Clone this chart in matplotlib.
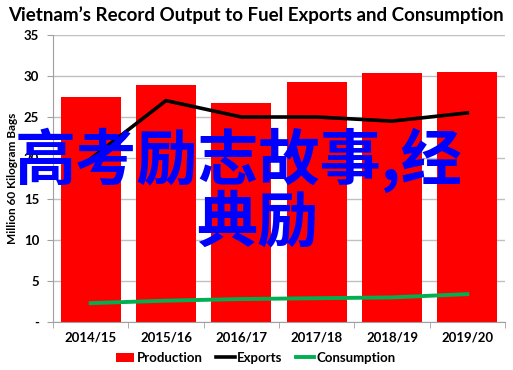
import matplotlib.pyplot as plt
import numpy as np

# values (million 60 kg bags)
seasons = ['2014/15', '2015/16', '2016/17', '2017/18', '2018/19', '2019/20']
production = [27.4, 28.9, 26.7, 29.3, 30.4, 30.5]
exports = [19.9, 27.0, 25.0, 25.0, 24.5, 25.5]
consumption = [2.3, 2.6, 2.8, 2.9, 3.0, 3.4]

yticks = [0, 5, 10, 15, 20, 25, 30, 35]
ytick_labels = ['-', '5', '10', '15', '20', '25', '30', '35']

W, H = 513, 370
fig = plt.figure(figsize=(W / 100, H / 100), dpi=100)
ax = fig.add_axes([53 / W, 1 - 322 / H, 452 / W, 287 / H])

x = np.arange(len(seasons))
bars = ax.bar(x, production, width=0.8, color='#ff0000', label='Production', zorder=2)
l_exp, = ax.plot(x, exports, color='black', lw=2.6, label='Exports', zorder=3)
l_con, = ax.plot(x, consumption, color='#00b050', lw=2.8, label='Consumption', zorder=3)

ax.set_xlim(-0.5, len(seasons) - 0.5)
ax.set_ylim(0, 35)
ax.set_yticks(yticks)
ax.set_yticklabels(ytick_labels, fontweight='bold', fontsize=9.5, family='Lato')
ax.set_xticks(x)
ax.set_xticklabels(seasons, fontweight='bold', fontsize=9.5, family='Lato')
ax.tick_params(axis='x', length=0, pad=7)
ax.set_xticks(np.arange(-0.5, len(seasons), 1), minor=True)
ax.tick_params(axis='x', which='minor', length=4, color='#a0a0a0')
ax.tick_params(axis='y', length=4, color='#a0a0a0', pad=6)

ax.grid(axis='y', color='#c0c0c0', lw=1, zorder=0)
ax.set_axisbelow(True)
for side in ['top', 'right']:
    ax.spines[side].set_visible(False)
for side in ['left', 'bottom']:
    ax.spines[side].set_color('#a0a0a0')

ax.set_ylabel('Million 60 Kilogram Bags', fontsize=8.5, fontweight='bold', family='Lato', labelpad=4)

fig.text(256 / W, 1 - 15 / H, 'Vietnam\u2019s Record Output to Fuel Exports and Consumption',
         ha='center', va='center', fontsize=13.5, fontweight='bold', family='Lato')

fig.legend(handles=[bars, l_exp, l_con], loc='center', bbox_to_anchor=(256 / W, 1 - 358 / H),
           ncol=3, frameon=False, handlelength=1.4, handletextpad=0.2, columnspacing=1.0,
           prop={'family': 'Lato', 'weight': 'bold', 'size': 9.5})

# watermark text overlay
wm = {'color': '#0000ff', 'fontsize': 44, 'fontweight': 'bold',
      'family': ['Noto Sans CJK SC', 'DejaVu Sans'], 'va': 'center', 'ha': 'left'}
fig.text(15 / W, 1 - 160 / H, '高考励志故事,经', **wm)
fig.text(196 / W, 1 - 224 / H, '典励', **wm)

fig.savefig('out.png', dpi=100)
